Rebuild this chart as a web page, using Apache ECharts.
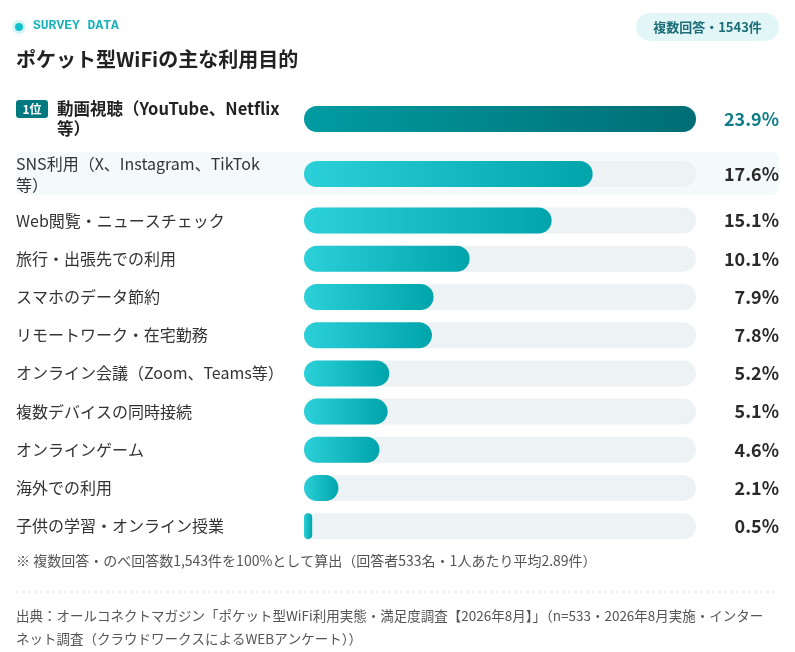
<!DOCTYPE html>
<html>
<head>
<meta charset="utf-8">
<script src="https://cdn.jsdelivr.net/npm/echarts@6/dist/echarts.min.js"></script>
<style>
  html, body { margin: 0; padding: 0; background: #fff; }
  #chart { width: 795px; height: 652px; }
</style>
</head>
<body>
<div id="chart"></div>
<script>
const categories = [
  '動画視聴（YouTube、Netflix等）',
  'SNS利用（X、Instagram、TikTok等）',
  'Web閲覧・ニュースチェック',
  '旅行・出張先での利用',
  'スマホのデータ節約',
  'リモートワーク・在宅勤務',
  'オンライン会議（Zoom、Teams等）',
  '複数デバイスの同時接続',
  'オンラインゲーム',
  '海外での利用',
  '子供の学習・オンライン授業'
]
const values = [23.9, 17.6, 15.1, 10.1, 7.9, 7.8, 5.2, 5.1, 4.6, 2.1, 0.5]
const rankLabel = '1位'
const totalLabel = '複数回答・1543件'
const FONT = '"Noto Sans CJK JP", "Noto Sans", sans-serif'

const maxVal = Math.max.apply(null, values)
// first two rows have two-line labels and get taller rows
const splitAt = 2

const grad = function (a, b) {
  return new echarts.graphic.LinearGradient(0, 0, 1, 0, [
    { offset: 0, color: a },
    { offset: 1, color: b }
  ])
}

// long names break before "等）"
function wrap(name) {
  var i = name.lastIndexOf('等）')
  if (name.length > 21 && i > 0) return [name.slice(0, i), name.slice(i)]
  return [name]
}

function labelFmt(name) {
  var parts = wrap(name)
  if (name === categories[0]) {
    var s = '{badge|' + rankLabel + '}{gap|}{top|' + parts[0] + '}'
    if (parts[1]) s += '\n{pad|}{top|' + parts[1] + '}'
    return s
  }
  return parts.map(function (p) { return '{n|' + p + '}' }).join('\n')
}

function yAxisFor(gi, cats) {
  return {
    type: 'category',
    gridIndex: gi,
    inverse: true,
    data: cats,
    axisLine: { show: false },
    axisTick: { show: false },
    splitLine: { show: false },
    axisLabel: {
      align: 'left',
      margin: 288,
      formatter: labelFmt,
      rich: {
        n: { fontFamily: FONT, fontSize: 16, color: '#333', lineHeight: 21 },
        top: { fontFamily: FONT, fontSize: 16.5, fontWeight: 'bold', color: '#222', lineHeight: 20 },
        badge: {
          fontFamily: FONT, fontSize: 12, fontWeight: 'bold', color: '#fff',
          backgroundColor: '#007a80', borderRadius: 3, padding: [3, 6],
          width: 20, align: 'center', lineHeight: 14
        },
        gap: { width: 9 },
        pad: { width: 41 }
      }
    }
  }
}

function xAxisFor(gi) {
  return {
    type: 'value', gridIndex: gi, min: 0, max: maxVal, show: false,
    splitLine: { show: false }
  }
}

function seriesFor(gi, from, to) {
  var vals = values.slice(from, to)
  return [{
    type: 'bar',
    xAxisIndex: gi, yAxisIndex: gi,
    barWidth: 26,
    silent: true,
    z: 1,
    itemStyle: { color: '#edf2f5', borderRadius: 13 },
    label: {
      show: true,
      position: 'right',
      distance: 83,
      align: 'right',
      fontFamily: FONT,
      fontSize: 18,
      fontWeight: 'bold',
      formatter: function (p) {
        var idx = from + p.dataIndex
        var t = values[idx].toFixed(1) + '%'
        return idx === 0 ? '{hi|' + t + '}' : '{v|' + t + '}'
      },
      rich: {
        hi: { fontFamily: FONT, fontSize: 18, fontWeight: 'bold', color: '#0e7d86' },
        v: { fontFamily: FONT, fontSize: 18, fontWeight: 'bold', color: '#2a2a2a' }
      }
    },
    data: vals.map(function () { return maxVal })
  }, {
    type: 'bar',
    xAxisIndex: gi, yAxisIndex: gi,
    barWidth: 26,
    barGap: '-100%',
    z: 2,
    itemStyle: { borderRadius: 13 },
    data: vals.map(function (v, i) {
      var top = from + i === 0
      return {
        value: v,
        itemStyle: { color: top ? grad('#009ca2', '#006d74') : grad('#2bd0d8', '#00a4ab') }
      }
    })
  }]
}

const chart = echarts.init(document.getElementById('chart'), null, { renderer: 'canvas' })

const option = {
  backgroundColor: '#fff',
  animation: false,
  grid: [
    { left: 304, right: 99, top: 91.5, height: 110 },
    { left: 304, right: 99, top: 201.5, height: 343.8 }
  ],
  xAxis: [xAxisFor(0), xAxisFor(1)],
  yAxis: [
    yAxisFor(0, categories.slice(0, splitAt)),
    yAxisFor(1, categories.slice(splitAt))
  ],
  series: seriesFor(0, 0, splitAt).concat(seriesFor(1, splitAt, categories.length)),
  graphic: [
    // highlighted second row
    { type: 'rect', z: -10, shape: { x: 16, y: 152, width: 763, height: 43, r: 6 }, style: { fill: '#f4f9fc' } },
    // header dot
    { type: 'circle', shape: { cx: 19, cy: 27, r: 7 }, style: { fill: '#d6f4f6' } },
    { type: 'circle', shape: { cx: 19, cy: 27, r: 4 }, style: { fill: '#13c3cc' } },
    {
      type: 'text', left: 33, top: 19,
      style: { text: 'SURVEY DATA', font: 'bold 13px "Liberation Mono", monospace', fill: '#17b2ba' }
    },
    {
      type: 'text', left: 16, top: 49,
      style: { text: 'ポケット型WiFiの主な利用目的', font: 'bold 20px ' + FONT, fill: '#222' }
    },
    // pill
    { type: 'rect', shape: { x: 636, y: 13, width: 143, height: 28, r: 14 }, style: { fill: '#e2f6f8' } },
    {
      type: 'text', x: 707.5, y: 27,
      style: { text: totalLabel, font: 'bold 13px ' + FONT, fill: '#1b6e77', align: 'center', verticalAlign: 'middle' }
    },
    {
      type: 'text', left: 16, top: 554,
      style: { text: '※ 複数回答・のべ回答数1,543件を100%として算出（回答者533名・1人あたり平均2.89件）', font: '14px ' + FONT, fill: '#555' }
    },
    {
      type: 'line', shape: { x1: 16, y1: 592, x2: 779, y2: 592 },
      style: { stroke: '#dce3e7', lineWidth: 1, lineDash: [3, 3] }
    },
    {
      type: 'text', left: 16, top: 604,
      style: {
        text: '出典：オールコネクトマガジン「ポケット型WiFi利用実態・満足度調査【2026年8月】」（n=533・2026年8月実施・インター\nネット調査（クラウドワークスによるWEBアンケート））',
        font: '13.5px ' + FONT, fill: '#555', lineHeight: 23
      }
    }
  ]
}

chart.setOption(option)
</script>
</body>
</html>
